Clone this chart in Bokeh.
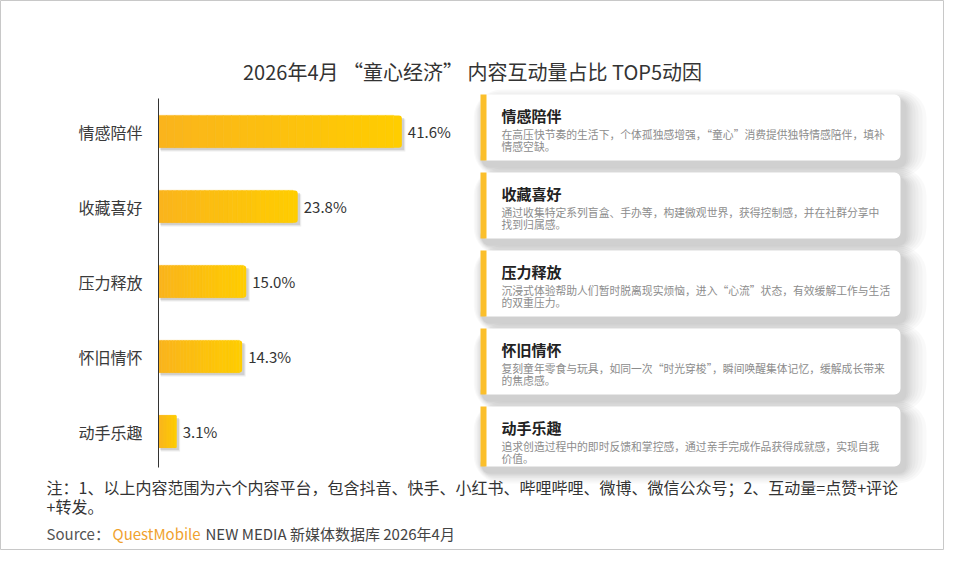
from bokeh.plotting import figure
from bokeh.models import Range1d, Label
from bokeh.core.properties import value
from bokeh.embed import file_html
from bokeh.resources import INLINE

# ---------------- data ----------------
categories = ["情感陪伴", "收藏喜好", "压力释放", "怀旧情怀", "动手乐趣"]
shares = [41.6, 23.8, 15.0, 14.3, 3.1]
card_titles = ["情感陪伴", "收藏喜好", "压力释放", "怀旧情怀", "动手乐趣"]
card_line1 = [
    "在高压快节奏的生活下，个体孤独感增强，“童心”消费提供独特情感陪伴，填补",
    "通过收集特定系列盲盒、手办等，构建微观世界，获得控制感，并在社群分享中",
    "沉浸式体验帮助人们暂时脱离现实烦恼，进入“心流”状态，有效缓解工作与生活",
    "复刻童年零食与玩具，如同一次“时光穿梭”，瞬间唤醒集体记忆，缓解成长带来",
    "追求创造过程中的即时反馈和掌控感，通过亲手完成作品获得成就感，实现自我",
]
card_line2 = ["情感空缺。", "找到归属感。", "的双重压力。", "的焦虑感。", "价值。"]
title_text = "2026年4月 “童心经济” 内容互动量占比 TOP5动因"
note_line1 = "注：1、以上内容范围为六个内容平台，包含抖音、快手、小红书、哔哩哔哩、微博、微信公众号；2、互动量=点赞+评论"
note_line2 = "+转发。"
source_label = "Source："
source_brand = "QuestMobile"
source_rest = "NEW MEDIA 新媒体数据库 2026年4月"

# ---------------- layout ----------------
W, H = 944, 550
X0, X1, Y0, Y1 = 0, 944, 0, 550
AXIS_X, PX_PER_PCT = 158, 5.85
ROW0_Y, ROW_GAP = 131, 75
FONT = value("Noto Sans CJK SC")

p = figure(width=W, height=H, output_backend="svg", toolbar_location=None,
           x_range=Range1d(X0, X1), y_range=Range1d(Y1, Y0),
           x_axis_location=None, y_axis_location=None, min_border=0)
p.grid.visible = False
p.outline_line_color = "#c8c8c8"
p.background_fill_color = "white"
p.border_fill_color = "white"

p.extra_x_ranges = {"pct": Range1d((X0 - AXIS_X) / PX_PER_PCT, (X1 - AXIS_X) / PX_PER_PCT)}
p.extra_y_ranges = {"row": Range1d((Y1 - ROW0_Y) / ROW_GAP, (Y0 - ROW0_Y) / ROW_GAP)}
rows = list(range(len(categories)))
BAR_H = 0.43

# bar shadows
p.hbar(y=[r + 0.05 for r in rows], left=0.4, right=[v + 0.6 for v in shares], height=BAR_H,
       fill_color="#000000", fill_alpha=0.07, line_color=None,
       x_range_name="pct", y_range_name="row")
p.hbar(y=[r + 0.035 for r in rows], left=0.3, right=[v + 0.4 for v in shares], height=BAR_H,
       fill_color="#000000", fill_alpha=0.12, line_color=None,
       x_range_name="pct", y_range_name="row")

# gradient bars
N = 30
c_left, c_right = (250, 180, 28), (255, 205, 0)
ys, ls, rs, cs = [], [], [], []
for r, v in zip(rows, shares):
    for k in range(N - 1):
        t = (k + 0.5) / N
        col = "#%02x%02x%02x" % tuple(int(round(a + (b - a) * t)) for a, b in zip(c_left, c_right))
        ys.append(r); ls.append(v * k / N); rs.append(v * (k + 1) / N); cs.append(col)
p.hbar(y=ys, left=ls, right=rs, height=BAR_H, fill_color=cs, line_color=cs, line_width=0.6,
       x_range_name="pct", y_range_name="row")
# last slice with rounded right corners
p.hbar(y=rows, left=[v * (N - 1) / N for v in shares], right=shares, height=BAR_H,
       fill_color="#%02x%02x%02x" % c_right, line_color=None, border_radius=(0, 3, 3, 0),
       x_range_name="pct", y_range_name="row")

# axis line
p.segment(x0=[0], x1=[0], y0=[-0.44], y1=[len(rows) - 0.52], line_color="#333333", line_width=1,
          x_range_name="pct", y_range_name="row")

# category labels
p.text(x=0, y=rows, text=categories, x_offset=-16, text_align="right", text_baseline="middle",
       text_font=FONT, text_font_size="16px", text_color="#3a3a3a",
       x_range_name="pct", y_range_name="row")
# value labels
p.text(x=shares, y=rows, text=[f"{v:.1f}%" for v in shares], x_offset=6, text_align="left",
       text_baseline="middle", text_font=FONT, text_font_size="15px", text_color="#333333",
       x_range_name="pct", y_range_name="row")

# title
p.add_layout(Label(x=472, y=71, text=title_text, text_align="center", text_baseline="middle",
                   text_font="Noto Sans CJK SC", text_font_size="20px", text_color="#333333"))

# cards
CARD_L, CARD_R, ACCENT_W = 480, 900, 6
tops = [94 + 78 * i for i in range(len(card_titles))]
bottoms = [t + 66 for t in tops]
bottoms[-1] = tops[-1] + 60
for k in [22, 18, 14, 11, 8, 6, 4, 2]:
    p.quad(left=CARD_L - k * 0.4 + 2, right=CARD_R + k + 4, top=[t - k * 0.5 + 6 for t in tops],
           bottom=[b + k * 0.5 + 6 for b in bottoms], fill_color="#000000", fill_alpha=0.022,
           line_color=None, border_radius=6 + k)
p.quad(left=CARD_L, right=CARD_R, top=tops, bottom=bottoms, fill_color="white",
       line_color=None, border_radius=6)
p.quad(left=CARD_L, right=CARD_L + ACCENT_W, top=tops, bottom=bottoms, fill_color="#fbbf2b",
       line_color=None)
p.text(x=501, y=[t + 21 for t in tops], text=card_titles, text_align="left", text_baseline="middle",
       text_font=FONT, text_font_size="15px", text_font_style="bold", text_color="#222222")
p.text(x=501, y=[t + 39 for t in tops], text=card_line1, text_align="left", text_baseline="middle",
       text_font=FONT, text_font_size="10.8px", text_color="#8c8c8c")
p.text(x=501, y=[t + 51 for t in tops], text=card_line2, text_align="left", text_baseline="middle",
       text_font=FONT, text_font_size="10.8px", text_color="#8c8c8c")

# notes & source
for txt, yy in [(note_line1, 486), (note_line2, 505)]:
    p.add_layout(Label(x=46, y=yy, text=txt, text_align="left", text_baseline="middle",
                       text_font="Noto Sans CJK SC", text_font_size="16px", text_color="#333333"))
for txt, xx, col in [(source_label, 46, "#555555"), (source_brand, 112, "#f0a22e"),
                     (source_rest, 205, "#444444")]:
    p.add_layout(Label(x=xx, y=533, text=txt, text_align="left", text_baseline="middle",
                       text_font="Noto Sans CJK SC", text_font_size="15px", text_color=col))

open("out.html", "w").write(file_html(p, INLINE))
